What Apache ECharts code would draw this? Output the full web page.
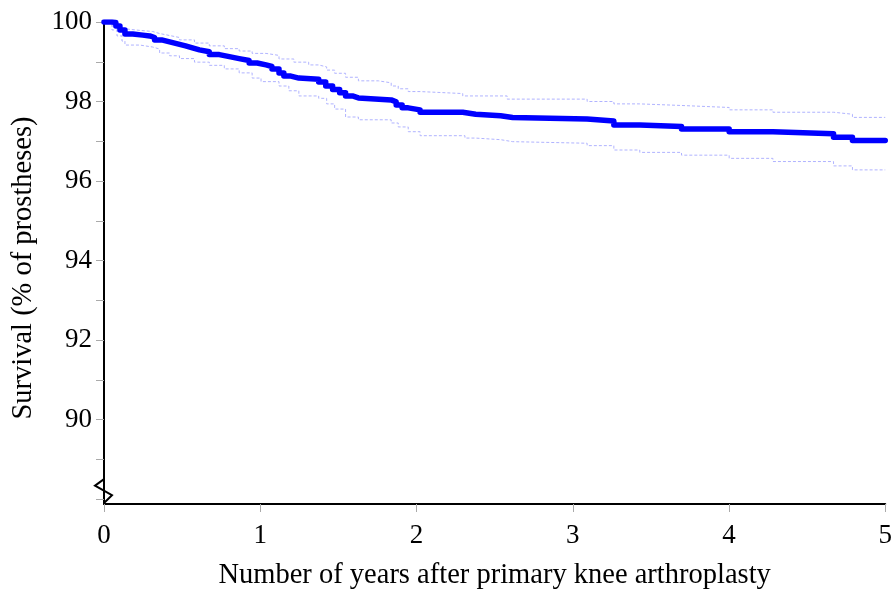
<!DOCTYPE html>
<html>
<head>
<meta charset="utf-8">
<script src="https://cdn.jsdelivr.net/npm/echarts@6/dist/echarts.min.js"></script>
<style>
  html, body { margin: 0; padding: 0; background: #fff; }
  #chart { width: 895px; height: 595px; }
</style>
</head>
<body>
<div id="chart"></div>
<script>
// Kaplan-Meier survival of primary knee prostheses, with 95% confidence band
const years = [0, 0.051, 0.076, 0.102, 0.134, 0.184, 0.248, 0.293, 0.324, 0.369, 0.42, 0.471, 0.522, 0.566,
  0.611, 0.674, 0.738, 0.802, 0.865, 0.929, 0.98, 1.037, 1.075, 1.12, 1.151, 1.196, 1.247, 1.374, 1.419,
  1.463, 1.508, 1.546, 1.59, 1.628, 1.838, 1.87, 1.908, 1.947, 2.023, 2.296, 2.379, 2.538, 2.615,
  3.092, 3.263, 3.429, 3.696, 4.001, 4.281, 4.669, 4.79, 5.0];
const survival = [100, 99.99, 99.9, 99.8, 99.7, 99.67, 99.65, 99.61, 99.55, 99.5, 99.45, 99.4, 99.35, 99.3,
  99.25, 99.18, 99.13, 99.08, 99.03, 98.97, 98.92, 98.88, 98.82, 98.72, 98.64, 98.59, 98.56, 98.49, 98.39,
  98.3, 98.22, 98.14, 98.09, 98.04, 97.99, 97.91, 97.84, 97.79, 97.73, 97.68, 97.64, 97.6, 97.56,
  97.51, 97.41, 97.37, 97.31, 97.24, 97.19, 97.1, 97.02, 97.02];

const upperYears = [0, 0.051, 0.102, 0.153, 0.229, 0.312, 0.356, 0.42, 0.483, 0.579, 0.674, 0.77, 0.865,
  0.948, 1.037, 1.12, 1.215, 1.31, 1.374, 1.425, 1.476, 1.546, 1.628, 1.756, 1.838, 1.883, 1.947, 2.023,
  2.296, 2.58, 3.092, 3.263, 3.429, 3.696, 4.001, 4.281, 4.669, 4.79, 5.0];
const upperCI = [100, 99.9, 99.82, 99.79, 99.76, 99.71, 99.66, 99.61, 99.55, 99.47, 99.4, 99.33, 99.27,
  99.21, 99.16, 99.07, 98.99, 98.92, 98.87, 98.79, 98.71, 98.61, 98.52, 98.47, 98.39, 98.32, 98.25, 98.2,
  98.14, 98.06, 98.0, 97.94, 97.9, 97.85, 97.79, 97.73, 97.68, 97.6, 97.6];

const lowerYears = [0, 0.051, 0.083, 0.115, 0.134, 0.229, 0.312, 0.356, 0.42, 0.483, 0.579, 0.674, 0.77,
  0.865, 0.948, 1.005, 1.12, 1.183, 1.247, 1.374, 1.425, 1.476, 1.546, 1.628, 1.838, 1.883, 1.947, 2.023,
  2.31, 2.379, 2.538, 2.615, 3.092, 3.263, 3.429, 3.696, 4.001, 4.281, 4.669, 4.79, 5.0];
const lowerCI = [100, 99.8, 99.65, 99.52, 99.42, 99.37, 99.32, 99.22, 99.15, 99.08, 98.99, 98.91, 98.82,
  98.72, 98.59, 98.5, 98.39, 98.27, 98.14, 98.08, 97.94, 97.81, 97.61, 97.54, 97.46, 97.36, 97.24, 97.14,
  97.08, 97.04, 96.99, 96.95, 96.89, 96.78, 96.72, 96.65, 96.57, 96.49, 96.38, 96.28, 96.28];

const xTicks = [0, 1, 2, 3, 4, 5];
const yTicks = [88, 89, 90, 91, 92, 93, 94, 95, 96, 97, 98, 99, 100];
const yLabels = [90, 92, 94, 96, 98, 100];

const pairs = (xs, ys) => xs.map((x, i) => [x, ys[i]]);
const FONT = 'Liberation Serif';

const chart = echarts.init(document.getElementById('chart'), null, { renderer: 'canvas' });

const ciStyle = { color: '#b0b3ff', width: 1, type: [3, 2] };

chart.setOption({
  animation: false,
  backgroundColor: '#fff',
  grid: { left: 104, right: 5, top: 22, bottom: 88, containLabel: false },
  xAxis: {
    type: 'value', min: 0, max: 5,
    name: 'Number of years after primary knee arthroplasty',
    nameLocation: 'middle', nameGap: 57,
    nameTextStyle: { fontFamily: FONT, fontSize: 28.5, color: '#000' },
    axisLine: { show: true, onZero: false, lineStyle: { color: '#000', width: 2 } },
    axisTick: { show: true, length: 8, customValues: xTicks, lineStyle: { color: '#aaa', width: 1 } },
    axisLabel: { customValues: xTicks, margin: 18, fontFamily: FONT, fontSize: 27, color: '#000' },
    splitLine: { show: false }
  },
  yAxis: {
    type: 'value', min: 87.875, max: 100,
    name: 'Survival (% of prostheses)',
    nameLocation: 'middle', nameGap: 66,
    nameTextStyle: { fontFamily: FONT, fontSize: 28.5, color: '#000', padding: [0, 10, 0, 0] },
    axisLine: { show: true, onZero: false, lineStyle: { color: '#000', width: 2 } },
    axisTick: { show: true, length: 8, customValues: yTicks, lineStyle: { color: '#aaa', width: 1 } },
    axisLabel: { customValues: yLabels, margin: 12, fontFamily: FONT, fontSize: 27, color: '#000' },
    splitLine: { show: false }
  },
  series: [
    {
      name: 'Upper 95% CI', type: 'line', step: 'end', showSymbol: false, symbol: 'none',
      data: pairs(upperYears, upperCI), lineStyle: ciStyle, z: 2
    },
    {
      name: 'Lower 95% CI', type: 'line', step: 'end', showSymbol: false, symbol: 'none',
      data: pairs(lowerYears, lowerCI), lineStyle: ciStyle, z: 2
    },
    {
      name: 'Survival', type: 'line', step: 'end', showSymbol: false, symbol: 'none',
      data: pairs(years, survival),
      lineStyle: { color: '#0000ff', width: 5.5, cap: 'round', join: 'round' }, z: 3
    }
  ]
});

// axis-break zigzag near the bottom of the y axis
function drawBreak() {
  const top = chart.convertToPixel({ gridIndex: 0 }, [0, 88.5]);
  const bot = chart.convertToPixel({ gridIndex: 0 }, [0, 87.9]);
  const x0 = top[0], y0 = top[1], y1 = bot[1];
  const h = y1 - y0;
  chart.setOption({
    graphic: [{
      type: 'polyline', z: 100,
      shape: { points: [[x0, y0], [x0 - 9, y0 + h * 0.27], [x0 + 8, y0 + h * 0.67], [x0, y1]] },
      style: { stroke: '#000', lineWidth: 2, fill: null }
    }]
  });
}
drawBreak();
</script>
</body>
</html>
